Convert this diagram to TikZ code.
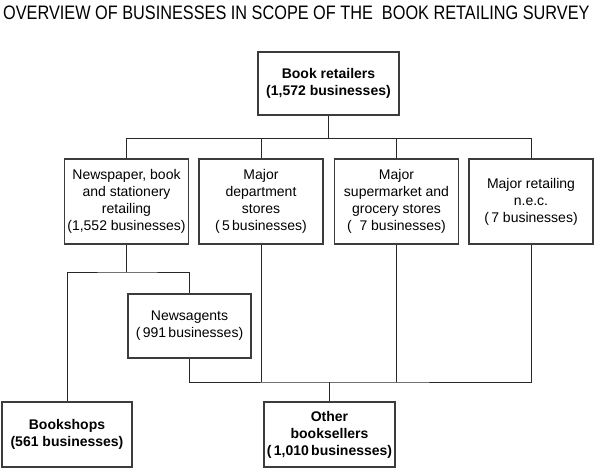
\documentclass[tikz,border=0pt]{standalone}
\usepackage{fontspec}
\setmainfont{Liberation Sans}
\newfontfamily\titlefont[FakeStretch=0.835]{Liberation Sans}
\usepackage{xcolor}
\definecolor{boxline}{RGB}{60,60,60}
\definecolor{linkline}{RGB}{40,40,40}

\begin{document}
\begin{tikzpicture}[x=1pt, y=-1pt,
  font=\fontsize{14}{17}\selectfont,
  unit/.style={draw=boxline, line width=1.2pt, align=center, inner sep=0pt,
    minimum width=124pt, minimum height=85pt},
  boldunit/.style={unit, font=\fontsize{14}{17}\selectfont\bfseries},
  link/.style={draw=linkline, line width=0.9pt}]
  \useasboundingbox (0,0) rectangle (595,468);
  % Title
  \node[anchor=base west, inner sep=0pt, font=\titlefont\fontsize{19.5}{20}\selectfont]
    (title) at (3,19.3) {OVERVIEW OF BUSINESSES IN SCOPE OF THE\ \ BOOK RETAILING SURVEY};
  % Top box
  \node[boldunit, minimum width=141pt, minimum height=63pt] (retail) at (328.5,83.5)
    {Book retailers\\(1,572 businesses)};
  % Industry groups
  \foreach \n/\x/\t in {news/126.5/{Newspaper, book\\and stationery\\retailing\\(1,552 businesses)},
                        dept/261/{Major\\department\\stores\\(\,5\,businesses)},
                        super/396.5/{Major\\supermarket and\\grocery stores\\(\ \ 7 businesses)},
                        nec/531/{Major retailing\\n.e.c.\\(\,7 businesses)}}{
    \node[unit] (\n) at (\x,201.5) {\t};
  }
  % Sub groups
  \node[unit, minimum width=123pt, minimum height=64pt] (agents) at (189.5,326)
    {Newsagents\\(\,991\,businesses)};
  \node[boldunit, minimum width=130pt, minimum height=65pt] (shops) at (67,434.5)
    {Bookshops\\(561 businesses)};
  \node[boldunit, minimum width=131pt, minimum height=65pt] (other) at (329.5,434.5)
    {Other\\booksellers\\(\,1,010\,businesses)};
  % Links from the top
  \coordinate (hub) at (328.5,138);
  \draw[link] (retail.south) -- (hub);
  \draw[link] (news.north |- hub) -- (nec.north |- hub);
  \foreach \n in {news,dept,super,nec}
    \draw[link] (\n.north) -- (\n.north |- hub);
  % Links to the bottom
  \coordinate (split) at (126.5,272);
  \draw[link] (news.south) -- (split);
  \draw[link] (shops.north) |- (split) -| (agents.north);
  \coordinate (merge) at (329.5,382);
  \draw[link] (agents.south) |- (merge) -| (nec.south);
  \foreach \n in {dept,super}
    \draw[link] (\n.south) -- (\n.south |- merge);
  \draw[link] (other.north) -- (merge);
\end{tikzpicture}
\end{document}
